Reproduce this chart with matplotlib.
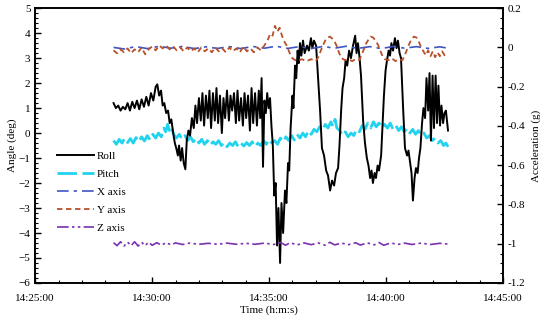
import matplotlib
matplotlib.use("Agg")
import matplotlib.pyplot as plt
from matplotlib.ticker import MultipleLocator, FuncFormatter

plt.rcParams['font.family'] = ['Liberation Serif', 'DejaVu Serif']
plt.rcParams['font.size'] = 8

# time in minutes after 14:25:00
roll_t = [3.35, 3.45, 3.55, 3.65, 3.75, 3.85, 3.95, 4.05, 4.15, 4.25, 4.35, 4.45, 4.55, 4.65, 4.75,
          4.85, 4.95, 5.05, 5.15, 5.22, 5.30, 5.38, 5.45, 5.52, 5.60, 5.68, 5.75, 5.82, 5.90, 5.97,
          6.03, 6.10, 6.15, 6.22, 6.28, 6.35, 6.42, 6.48, 6.55, 6.62, 6.70, 6.78, 6.85, 6.92, 7.00,
          7.08, 7.15, 7.22, 7.30, 7.38, 7.45, 7.52, 7.60, 7.68, 7.75, 7.82, 7.90, 7.98, 8.05, 8.12,
          8.20, 8.28, 8.35, 8.42, 8.50, 8.58, 8.65, 8.72, 8.80, 8.88, 8.95, 9.02, 9.10, 9.18, 9.25,
          9.32, 9.40, 9.48, 9.56, 9.62, 9.68, 9.74, 9.80, 9.86, 9.92, 9.98, 10.04, 10.10, 10.16, 10.22,
          10.28, 10.34, 10.40, 10.47, 10.53, 10.60, 10.68, 10.74, 10.81, 10.86, 10.92, 11.00, 11.04, 11.11, 11.16,
          11.22, 11.27, 11.32, 11.38, 11.45, 11.52, 11.62, 11.70, 11.79, 11.85, 11.92, 12.01, 12.18, 12.26, 12.35,
          12.44, 12.52, 12.61, 12.69, 12.78, 12.86, 12.95, 13.01, 13.08, 13.14, 13.21, 13.27, 13.34, 13.42, 13.50,
          13.59, 13.68, 13.74, 13.80, 13.86, 13.93, 14.02, 14.10, 14.18, 14.25, 14.32, 14.38, 14.44, 14.51, 14.57,
          14.64, 14.70, 14.79, 14.85, 14.91, 14.98, 15.04, 15.11, 15.17, 15.23, 15.30, 15.38, 15.45, 15.51, 15.58,
          15.64, 15.73, 15.81, 15.90, 15.96, 16.03, 16.09, 16.15, 16.22, 16.28, 16.35, 16.41, 16.47, 16.54, 16.60,
          16.67, 16.73, 16.80, 16.86, 16.92, 16.99, 17.05, 17.12, 17.18, 17.24, 17.31, 17.37, 17.44, 17.50, 17.56,
          17.65]
roll_v = [1.20, 1.00, 1.10, 0.90, 1.05, 0.95, 1.20, 0.90, 1.25, 1.00, 1.30, 0.95, 1.35, 1.05, 1.45,
          1.10, 1.60, 1.30, 1.85, 1.95, 1.50, 1.70, 1.10, 1.20, 0.80, 0.90, 0.40, 0.55, 0.00, -0.40,
          -0.60, -0.90, -0.50, -1.10, -0.60, -1.20, -1.45, -0.30, 0.10, -0.10, 0.60, 0.20, 1.10, 0.40, 1.40,
          0.50, 1.60, 0.30, 1.50, 0.60, 1.70, 0.20, 1.60, 0.50, 1.80, 0.40, 1.50, 0.00, 1.40, 0.60,
          1.70, 0.50, 1.50, 0.90, 1.60, 0.40, 1.70, 0.50, 1.40, 0.30, 1.60, 0.60, 1.50, 0.10, 1.80,
          0.40, 1.60, 0.30, 1.70, 0.60, 2.20, -1.35, 1.30, 0.80, 1.60, 1.00, 1.40, 0.30, -0.50, -2.50,
          -2.00, -4.50, -3.00, -5.20, -2.80, -4.00, -2.30, -2.80, -1.20, -1.50, 0.20, 1.50, 1.00, 2.70, 2.20,
          3.30, 2.80, 3.60, 3.10, 3.70, 3.20, 3.50, 3.30, 3.80, 3.40, 3.70, 3.50, 0.90, -0.60, -0.90,
          -1.50, -1.70, -2.30, -1.90, -2.10, -1.60, -1.40, -0.50, 0.90, 1.80, 2.20, 2.90, 2.70, 3.30, 3.00,
          3.50, 3.90, 3.20, 3.60, 3.10, 2.30, 0.50, -0.40, -1.00, -1.30, -1.80, -1.50, -2.00, -1.60, -1.80,
          -1.30, -1.50, -0.90, 0.30, 1.50, 2.50, 2.90, 3.30, 3.10, 3.60, 3.30, 3.80, 3.40, 3.70, 3.20,
          3.00, 1.00, -0.60, -0.90, -0.70, -1.20, -1.60, -2.70, -1.80, -1.40, -1.60, -1.00, -0.60, 0.40, 1.00,
          0.60, 2.20, 0.90, 2.40, -0.30, 2.30, 0.20, 2.30, 0.40, 1.90, 0.30, 1.10, 0.40, 0.80, 0.90,
          0.10]

pitch_t = [3.35, 3.47, 3.59, 3.71, 3.83, 3.95, 4.07, 4.19, 4.31, 4.43, 4.55, 4.67, 4.79, 4.91, 5.03,
           5.15, 5.27, 5.39, 5.50, 5.58, 5.66, 5.74, 5.82, 5.92, 6.04, 6.16, 6.28, 6.40, 6.52, 6.64,
           6.76, 6.88, 7.00, 7.12, 7.24, 7.36, 7.48, 7.60, 7.72, 7.84, 7.96, 8.08, 8.20, 8.32, 8.44,
           8.56, 8.68, 8.80, 8.92, 9.04, 9.16, 9.28, 9.40, 9.52, 9.64, 9.76, 9.88, 10.00, 10.12, 10.24,
           10.36, 10.48, 10.60, 10.72, 10.84, 10.96, 11.08, 11.20, 11.32, 11.44, 11.56, 11.68, 11.80, 11.92, 12.04,
           12.16, 12.28, 12.40, 12.52, 12.64, 12.74, 12.82, 12.90, 13.02, 13.14, 13.26, 13.38, 13.50, 13.62, 13.74,
           13.86, 13.98, 14.10, 14.22, 14.34, 14.46, 14.58, 14.70, 14.82, 14.94, 15.06, 15.18, 15.30, 15.42, 15.54,
           15.66, 15.78, 15.90, 16.02, 16.14, 16.26, 16.38, 16.50, 16.62, 16.74, 16.86, 16.98, 17.10, 17.22, 17.34,
           17.46, 17.56, 17.65]
pitch_v = [-0.30, -0.45, -0.25, -0.40, -0.20, -0.38, -0.22, -0.40, -0.18, -0.35, -0.15, -0.32, -0.10, -0.28, -0.05,
           -0.20, 0.00, -0.15, 0.20, 0.05, 0.35, 0.10, 0.25, -0.05, -0.20, -0.05, -0.25, -0.10, -0.30, -0.15,
           -0.35, -0.20, -0.40, -0.25, -0.45, -0.30, -0.50, -0.35, -0.45, -0.30, -0.50, -0.38, -0.55, -0.40, -0.50,
           -0.35, -0.55, -0.40, -0.52, -0.38, -0.50, -0.35, -0.55, -0.40, -0.50, -0.30, -0.45, -0.25, -0.40, -0.30,
           -0.45, -0.20, -0.35, -0.15, -0.30, -0.10, -0.28, -0.05, -0.20, 0.00, -0.15, 0.10, -0.05, 0.15, 0.05,
           0.25, 0.10, 0.35, 0.20, 0.45, 0.25, 0.55, 0.20, 0.10, -0.10, 0.05, -0.15, 0.00, -0.10, 0.15,
           0.05, 0.30, 0.15, 0.40, 0.20, 0.45, 0.25, 0.40, 0.20, 0.35, 0.20, 0.40, 0.15, 0.30, 0.10,
           0.25, 0.05, 0.20, 0.00, 0.15, -0.05, 0.10, -0.10, 0.00, -0.20, -0.10, -0.30, -0.20, -0.40, -0.30,
           -0.50, -0.40, -0.55]

accx_t = [3.35, 3.8, 4.3, 4.8, 5.3, 5.8, 6.3, 6.8, 7.3, 7.8, 8.3, 8.8, 9.3, 9.8, 10.3,
          10.8, 11.3, 11.8, 12.3, 12.8, 13.3, 13.8, 14.3, 14.8, 15.3, 15.8, 16.3, 16.8, 17.3, 17.65]
accx_v = [0.000, -0.008, 0.004, -0.006, 0.006, -0.004, 0.005, -0.006, 0.003, -0.005, 0.004, -0.006, 0.005, -0.004, 0.006,
          -0.005, 0.004, -0.006, 0.005, -0.004, 0.006, -0.005, 0.004, -0.006, 0.005, -0.004, 0.004, -0.005, 0.003, -0.004]

accy_t = [3.35, 3.5, 3.65, 3.8, 3.95, 4.1, 4.25, 4.4, 4.55, 4.7, 4.85, 5.0, 5.15, 5.3, 5.45,
          5.6, 5.75, 5.9, 6.05, 6.2, 6.35, 6.5, 6.65, 6.8, 6.95, 7.1, 7.25, 7.4, 7.55, 7.7,
          7.85, 8.0, 8.15, 8.3, 8.45, 8.6, 8.75, 8.9, 9.05, 9.2, 9.35, 9.5, 9.65, 9.8, 9.95,
          10.05, 10.15, 10.25, 10.35, 10.45, 10.55, 10.65, 10.75, 10.85, 10.95, 11.05, 11.2, 11.4, 11.6, 11.8,
          12.0, 12.1, 12.2, 12.3, 12.4, 12.5, 12.6, 12.7, 12.8, 12.9, 13.0, 13.1, 13.25, 13.4, 13.55,
          13.7, 13.85, 13.95, 14.05, 14.15, 14.25, 14.35, 14.45, 14.55, 14.65, 14.75, 14.85, 14.95, 15.1, 15.25,
          15.4, 15.55, 15.7, 15.8, 15.9, 16.0, 16.1, 16.2, 16.3, 16.4, 16.5, 16.6, 16.7, 16.8, 16.9,
          17.0, 17.1, 17.2, 17.3, 17.4, 17.5, 17.65]
accy_v = [-0.015, -0.030, -0.010, -0.025, -0.005, -0.030, -0.010, -0.025, 0.000, -0.035, -0.010, 0.005, -0.015, 0.010, -0.005,
          0.010, -0.010, 0.005, -0.015, 0.000, -0.020, 0.000, -0.020, -0.005, -0.025, 0.000, -0.020, -0.005, -0.025, 0.000,
          -0.020, -0.005, -0.025, 0.000, -0.020, -0.005, -0.025, 0.005, -0.020, -0.005, -0.025, 0.000, -0.015, 0.010, 0.040,
          0.070, 0.060, 0.110, 0.080, 0.100, 0.060, 0.030, 0.010, -0.020, -0.050, -0.060, -0.070, -0.060, -0.070, -0.060,
          -0.070, -0.050, -0.020, 0.010, 0.035, 0.050, 0.055, 0.045, 0.030, 0.005, -0.030, -0.055, -0.065, -0.060, -0.070,
          -0.060, -0.065, -0.040, -0.010, 0.020, 0.040, 0.055, 0.050, 0.035, 0.015, -0.015, -0.045, -0.060, -0.065, -0.055,
          -0.070, -0.060, -0.065, -0.040, -0.010, 0.020, 0.045, 0.055, 0.050, 0.030, 0.000, -0.020, -0.040, -0.015, -0.045,
          -0.020, -0.050, -0.025, -0.045, -0.020, -0.040, -0.030]

accz_t = [3.35, 3.5, 3.65, 3.8, 3.95, 4.1, 4.25, 4.4, 4.55, 4.7, 4.85, 5.0, 5.2, 5.4, 5.6,
          5.8, 6.0, 6.3, 6.6, 7.0, 7.4, 7.8, 8.2, 8.6, 9.0, 9.4, 9.8, 10.2, 10.5, 10.7,
          10.9, 11.2, 11.5, 11.8, 12.1, 12.4, 12.6, 12.8, 13.1, 13.4, 13.7, 13.9, 14.2, 14.5, 14.7,
          14.9, 15.2, 15.5, 15.8, 16.1, 16.5, 16.9, 17.3, 17.65]
accz_v = [-0.995, -1.010, -0.990, -1.012, -0.992, -1.010, -0.990, -1.012, -0.993, -1.010, -0.992, -1.008, -0.995, -1.008, -0.994,
          -1.006, -0.996, -1.004, -0.997, -1.003, -0.998, -1.003, -0.997, -1.003, -0.998, -1.003, -0.997, -1.004, -0.994, -1.008,
          -0.995, -1.006, -0.996, -1.005, -0.996, -1.008, -0.993, -1.006, -0.997, -1.005, -0.995, -1.007, -0.996, -1.006, -0.994,
          -1.008, -0.996, -1.004, -0.997, -1.004, -0.997, -1.004, -0.998, -1.002]

fig, ax = plt.subplots(figsize=(5.5, 3.26), dpi=100)
fig.subplots_adjust(left=0.064, right=0.9145, bottom=0.132, top=0.975)
ax2 = ax.twinx()

ax.plot(pitch_t, pitch_v, color='#22d3ee', lw=2.0, ls=(0, (7, 2)), label='Pitch', zorder=2)
ax.plot(roll_t, roll_v, color='black', lw=1.4, label='Roll', zorder=3)

ax2.plot(accx_t, accx_v, color='#3f55c0', lw=1.2, ls=(0, (7, 3, 2, 3)), label='X axis')
ax2.plot(accy_t, accy_v, color='#b8502a', lw=1.3, ls=(0, (3, 2)), label='Y axis')
ax2.plot(accz_t, accz_v, color='#7a30b0', lw=1.2, ls=(0, (7, 2, 1.5, 2, 1.5, 2)), label='Z axis')

ax.set_xlim(0, 20)
ax.set_ylim(-6, 5)
ax2.set_ylim(-1.2, 0.2)

ax.xaxis.set_major_locator(MultipleLocator(5))
ax.xaxis.set_minor_locator(MultipleLocator(1))
ax.xaxis.set_major_formatter(FuncFormatter(lambda v, p: '14:%02d:00' % (25 + int(round(v)))))
ax.yaxis.set_major_locator(MultipleLocator(1))
ax.yaxis.set_minor_locator(MultipleLocator(0.2))
ax2.yaxis.set_major_locator(MultipleLocator(0.2))
ax2.yaxis.set_minor_locator(MultipleLocator(0.05))
ax2.yaxis.set_major_formatter(FuncFormatter(lambda v, p: '%g' % round(v, 2)))

for a in (ax, ax2):
    a.tick_params(which='major', direction='in', length=4, width=1)
    a.tick_params(which='minor', direction='in', length=2, width=0.8)
    for s in a.spines.values():
        s.set_linewidth(1.2)
ax.tick_params(axis='x', pad=8)

ax.set_xlabel('Time (h:m:s)', labelpad=2)
ax.set_ylabel('Angle (deg)', labelpad=1)
ax2.set_ylabel('Acceleration (g)', labelpad=4)

h1, l1 = ax.get_legend_handles_labels()
h2, l2 = ax2.get_legend_handles_labels()
handles = [h1[1], h1[0]] + h2
labels = [l1[1], l1[0]] + l2
ax2.legend(handles, labels, loc='upper left', bbox_to_anchor=(0.035, 0.50), frameon=False,
           handlelength=3.3, handletextpad=0.3, labelspacing=0.75, borderpad=0)

fig.savefig('out.png', dpi=100)
